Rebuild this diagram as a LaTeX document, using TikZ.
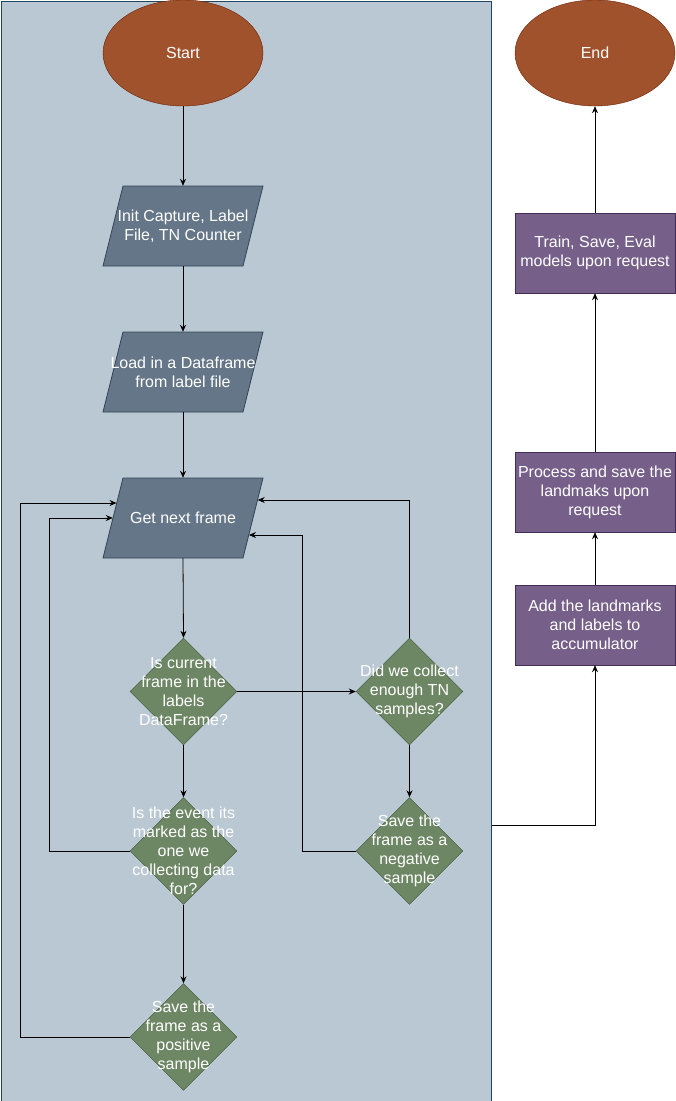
\documentclass[tikz,border=0pt]{standalone}
\usepackage{fontspec}
\setmainfont{Liberation Sans}
\usetikzlibrary{shapes.geometric,arrows.meta,calc}
\definecolor{contfill}{HTML}{BAC8D3}
\definecolor{contline}{HTML}{23445D}
\definecolor{ellfill}{HTML}{A0522D}
\definecolor{ellline}{HTML}{6D1F00}
\definecolor{parfill}{HTML}{647687}
\definecolor{parline}{HTML}{314354}
\definecolor{diafill}{HTML}{6D8764}
\definecolor{dialine}{HTML}{3A5431}
\definecolor{boxfill}{HTML}{76608A}
\definecolor{boxline}{HTML}{432D57}
\tikzset{
  lbl/.style={font=\fontsize{16}{19}\selectfont, text=white, align=center},
  term/.style={ellipse, draw=ellline, fill=ellfill, minimum width=160pt, minimum height=106pt, inner sep=0pt, lbl},
  paratext/.style={rectangle, minimum width=160pt, minimum height=80pt, inner sep=0pt, lbl},
  parashape/.style={fill=parfill, draw=parline, line width=0.8pt},
  dia/.style={diamond, draw=dialine, fill=diafill, minimum width=107pt, minimum height=107pt, inner sep=0pt},
  procbox/.style={rectangle, draw=boxline, fill=boxfill, minimum width=160pt, minimum height=80pt, inner sep=0pt, lbl},
  arr/.style={draw=black, line width=0.8pt, -{Stealth[length=7pt,width=6pt]}},
}
\newcommand\parabox[2]{\path[parashape] (#1-60,#2-40) -- (#1+80,#2-40) -- (#1+60,#2+40) -- (#1-80,#2+40) -- cycle;}
\begin{document}
\begin{tikzpicture}[x=1pt,y=-1pt]
\useasboundingbox (0,0) rectangle (676,1101);
\fill[white] (0,0) rectangle (676,1101);
\node[rectangle, draw=contline, fill=contfill, line width=1pt, minimum width=490pt, minimum height=1100pt, inner sep=0pt, anchor=north west] (cont) at (0.5,0.5) {};

% terminals
\node[term] (start) at (183,53) {Start};
\node[term] (end) at (595,53) {End};

% parallelograms
\parabox{183}{226}
\node[paratext] (init) at (183,226) {Init Capture, Label\\File, TN Counter};
\parabox{183}{372}
\node[paratext] (load) at (183,372) {Load in a Dataframe\\from label file};
\parabox{183}{518}
\node[paratext] (gnf) at (183,518) {Get next frame};

% diamonds
\node[dia, label={[lbl]center:{Is current\\frame in the\\labels\\DataFrame?}}] (d1) at (183.5,691.5) {};
\node[dia, label={[lbl]center:{Did we collect\\enough TN\\samples?}}] (d2) at (409.5,691.5) {};
\node[dia, label={[lbl]center:{Is the event its\\marked as the\\one we\\collecting data\\for?}}] (d3) at (183.5,851) {};
\node[dia, label={[lbl]center:{Save the\\frame as a\\negative\\sample}}] (d4) at (409.5,851) {};
\node[dia, label={[lbl]center:{Save the\\frame as a\\positive\\sample}}] (d5) at (183.5,1037) {};

% right column boxes
\node[procbox] (train) at (595,253) {Train, Save, Eval\\models upon request};
\node[procbox] (proc) at (595,492) {Process and save the\\landmaks upon\\request};
\node[procbox] (add) at (595,625) {Add the landmarks\\and labels to\\accumulator};

% connectors
\draw[arr] (start.south) -- (init.north);
\draw[arr] (init.south) -- (load.north);
\draw[arr] (load.south) -- (gnf.north);
\draw[arr] (gnf.south) -- (d1.north);
\draw[arr] (d1.east) -- (d2.west);
\draw[arr] (d1.south) -- (d3.north);
\draw[arr] (d3.south) -- (d5.north);
\draw[arr] (d2.south) -- (d4.north);
\draw[arr] (d3.west) -- ++(-80,0) |- ([xshift=10pt]gnf.west);
\draw[arr] (d5.west) -- ++(-109.5,0) |- ([xshift=13.75pt,yshift=15pt]gnf.west);
\draw[arr] (d4.west) -- ++(-53,0) |- ([xshift=-14.25pt,yshift=-17pt]gnf.east);
\draw[arr] (d2.north) |- ([xshift=-5.5pt,yshift=18pt]gnf.east);
\draw[arr] ([yshift=-274.5pt]cont.east) -| (add.south);
\draw[arr] (add.north) -- (proc.south);
\draw[arr] (proc.north) -- (train.south);
\draw[arr] (train.north) -- (end.south);
\end{tikzpicture}
\end{document}
